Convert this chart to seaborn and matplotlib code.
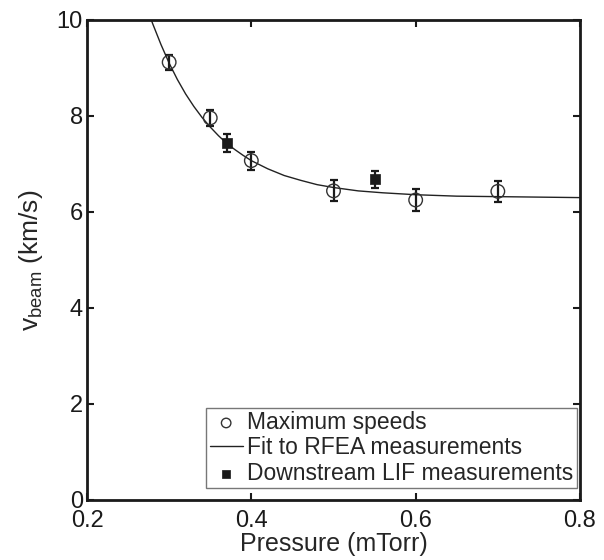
import matplotlib
matplotlib.use("Agg")
import matplotlib.pyplot as plt
import pandas as pd
import numpy as np
import seaborn as sns

# maximum speeds (open circles)
p_max = [0.30, 0.35, 0.40, 0.50, 0.60, 0.70]
v_max = [9.12, 7.96, 7.07, 6.44, 6.25, 6.43]
e_max = [0.16, 0.17, 0.19, 0.22, 0.22, 0.22]

# downstream LIF (filled squares)
p_lif = [0.37, 0.55]
v_lif = [7.44, 6.68]
e_lif = [0.18, 0.18]

p_fit = [0.275, 0.28, 0.29, 0.30, 0.31, 0.32, 0.33, 0.34, 0.35, 0.36, 0.37, 0.38,
         0.39, 0.40, 0.42, 0.44, 0.46, 0.48, 0.50, 0.53, 0.56, 0.60, 0.65, 0.70,
         0.75, 0.80]
v_fit = [10.15, 9.92, 9.49, 9.10, 8.76, 8.46, 8.20, 7.97, 7.77, 7.59, 7.43, 7.30,
         7.18, 7.07, 6.90, 6.76, 6.66, 6.57, 6.51, 6.44, 6.40, 6.36, 6.33, 6.32,
         6.31, 6.30]

df_max = pd.DataFrame({'p': p_max, 'v': v_max})
df_lif = pd.DataFrame({'p': p_lif, 'v': v_lif})
df_fit = pd.DataFrame({'p': p_fit, 'v': v_fit})

sns.set_style("ticks")
plt.rcParams['font.family'] = ['Liberation Sans', 'DejaVu Sans']
plt.rcParams['mathtext.fontset'] = 'custom'
plt.rcParams['mathtext.rm'] = 'Liberation Sans'
plt.rcParams['mathtext.it'] = 'Liberation Sans'

fig = plt.figure(figsize=(6.04, 5.6), dpi=100)
ax = fig.add_axes([87/604, 60/560, 493/604, 480/560])

sns.lineplot(data=df_fit, x='p', y='v', ax=ax, color='#222222', lw=1.0,
             label='Fit to RFEA measurements', sort=True, zorder=2)
ax.errorbar(p_max, v_max, yerr=e_max, fmt='none', ecolor='#1a1a1a',
            elinewidth=1.6, capsize=3, capthick=1.6, zorder=3)
ax.errorbar(p_lif, v_lif, yerr=e_lif, fmt='none', ecolor='#1a1a1a',
            elinewidth=1.6, capsize=3, capthick=1.6, zorder=3)
sns.scatterplot(data=df_max, x='p', y='v', ax=ax, marker='o', s=95,
                facecolor='none', edgecolor='#333333', linewidth=1.0,
                label='Maximum speeds', zorder=4)
sns.scatterplot(data=df_lif, x='p', y='v', ax=ax, marker='s', s=55,
                color='#1a1a1a', edgecolor='#1a1a1a', linewidth=0.5,
                label='Downstream LIF measurements', zorder=4)

ax.set_xlim(0.2, 0.8)
ax.set_ylim(0, 10)
ax.set_xticks([0.2, 0.4, 0.6, 0.8])
ax.set_yticks([0, 2, 4, 6, 8, 10])
ax.set_xticklabels(['0.2', '0.4', '0.6', '0.8'])
ax.set_yticklabels(['0', '2', '4', '6', '8', '10'])
ax.tick_params(direction='in', length=5, width=1.5, labelsize=17,
               top=True, right=True, colors='#1a1a1a')
ax.tick_params(axis='x', pad=7)
ax.tick_params(axis='y', pad=3)
for s in ax.spines.values():
    s.set_linewidth(2)
    s.set_color('#1a1a1a')

ax.set_xlabel('Pressure (mTorr)', fontsize=18, labelpad=0)
ax.set_ylabel(r'v$_{\mathrm{beam}}$ (km/s)', fontsize=19, labelpad=8)

h, l = ax.get_legend_handles_labels()
order = [l.index('Maximum speeds'), l.index('Fit to RFEA measurements'),
         l.index('Downstream LIF measurements')]
leg = ax.legend([h[i] for i in order], [l[i] for i in order], loc='lower right',
                bbox_to_anchor=(0.994, 0.025),
                fontsize=16.5, frameon=True, fancybox=False, framealpha=1,
                edgecolor='#777777', handlelength=1.45, handletextpad=0.2,
                borderpad=0.15, labelspacing=0.1, borderaxespad=0.0,
                markerscale=0.7)
leg.get_frame().set_linewidth(1.0)

fig.savefig('out.png', dpi=100)
